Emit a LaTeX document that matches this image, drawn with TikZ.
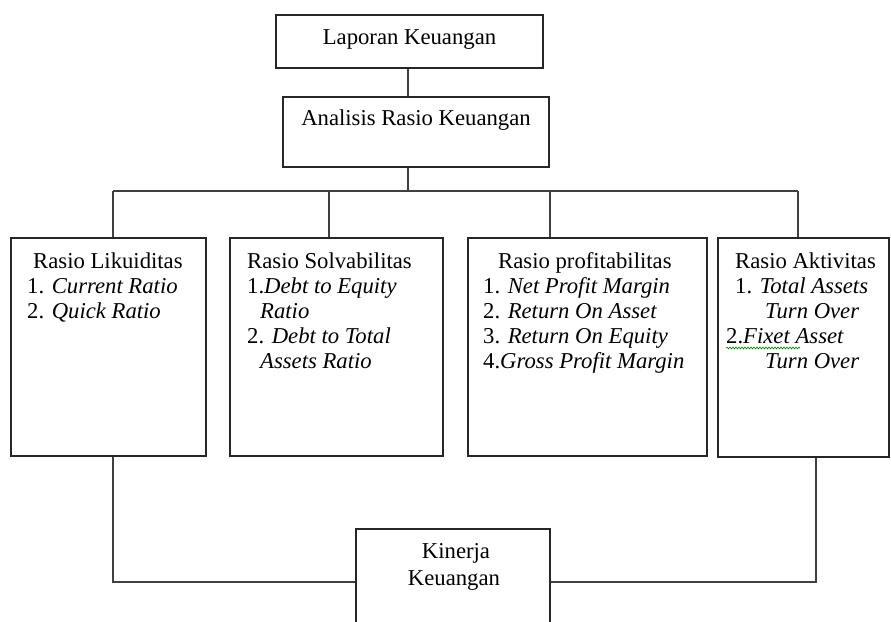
\documentclass[tikz,border=0pt]{standalone}
\usepackage{fontspec}
\setmainfont{Liberation Serif}
\usetikzlibrary{decorations.pathmorphing}
\begin{document}
\begin{tikzpicture}[x=1pt,y=-1pt,
  box/.style={draw=black!85,line width=1.3pt,inner sep=0pt,fill=none},
  conn/.style={draw=black!75,line width=1.3pt},
  txt/.style={inner sep=0pt,anchor=base west,font=\fontsize{22.7}{25}\selectfont},
  ctxt/.style={inner sep=0pt,anchor=base,font=\fontsize{22.7}{25}\selectfont}]
\useasboundingbox (0,0) rectangle (891,621);
% boxes
\node[box,minimum width=267pt,minimum height=53pt] (lap) at (409.5,41.5) {};
\node[box,minimum width=266pt,minimum height=70pt] (ana) at (416,132) {};
\node[box,minimum width=195pt,minimum height=218pt] (b1) at (108.5,347) {};
\node[box,minimum width=213pt,minimum height=218pt] (b2) at (336.5,347) {};
\node[box,minimum width=239pt,minimum height=218pt] (b3) at (587.5,347) {};
\node[box,minimum width=171pt,minimum height=219pt] (b4) at (803.5,347.5) {};
\node[box,minimum width=194pt,minimum height=96pt] (kin) at (453,577) {};
% texts
\node[ctxt] (tlap) at (409.5,44) {Laporan Keuangan};
\node[ctxt] (tana) at (416,125) {Analisis Rasio Keuangan};
\node[txt] (t1a) at (33,268) {Rasio Likuiditas};
\node[txt] (t1b) at (27,293) {1. \textit{Current Ratio}};
\node[txt] (t1c) at (27,318) {2. \textit{Quick Ratio}};
\node[txt] (t2a) at (247,268) {Rasio Solvabilitas};
\node[txt] (t2b) at (247,293) {1.\textit{Debt to Equity}};
\node[txt] (t2c) at (260,318) {\textit{Ratio}};
\node[txt] (t2d) at (247,343) {2. \textit{Debt to Total}};
\node[txt] (t2e) at (260,368) {\textit{Assets Ratio}};
\node[txt] (t3a) at (498,268) {Rasio profitabilitas};
\node[txt] (t3b) at (483,293) {1. \textit{Net Profit Margin}};
\node[txt] (t3c) at (483,318) {2. \textit{Return On Asset}};
\node[txt] (t3d) at (483,343) {3. \textit{Return On Equity}};
\node[txt] (t3e) at (483,368) {4.\textit{Gross Profit Margin}};
\node[txt] (t4a) at (735,268) {Rasio Aktivitas};
\node[txt] (t4b) at (735,293) {1. \textit{Total Assets}};
\node[txt] (t4c) at (765,318) {\textit{Turn Over}};
\node[txt] (t4d) at (726,343) {2.\textit{Fixet Asset}};
\node[txt] (t4e) at (765,368) {\textit{Turn Over}};
\node[ctxt] (tk1) at (456,558) {Kinerja};
\node[ctxt] (tk2) at (454,585) {Keuangan};
% spell-check wave
\coordinate (w1) at (726,348);
\coordinate (w2) at (800,348);
\draw[green!55!black,line width=0.6pt,decorate,decoration={snake,amplitude=1pt,segment length=3pt}] (w1) -- (w2);
% connectors
\coordinate (top) at (408,191);
\coordinate (j1) at (113,191);
\coordinate (j2) at (329,191);
\coordinate (j3) at (550,191);
\coordinate (j4) at (798,191);
\coordinate (kl) at (113,582);
\coordinate (kr) at (816,582);
\draw[conn] (lap.south -| top) -- (ana.north -| top);
\draw[conn] (ana.south -| top) -- (top);
\draw[conn] (j1) -- (j4);
\draw[conn] (j1) -- (j1 |- b1.north);
\draw[conn] (j2) -- (j2 |- b2.north);
\draw[conn] (j3) -- (j3 |- b3.north);
\draw[conn] (j4) -- (j4 |- b4.north);
\draw[conn] (kl |- b1.south) -- (kl) -- (kl -| kin.west);
\draw[conn] (kin.east |- kr) -- (kr) -- (kr |- b4.south);
\end{tikzpicture}
\end{document}
